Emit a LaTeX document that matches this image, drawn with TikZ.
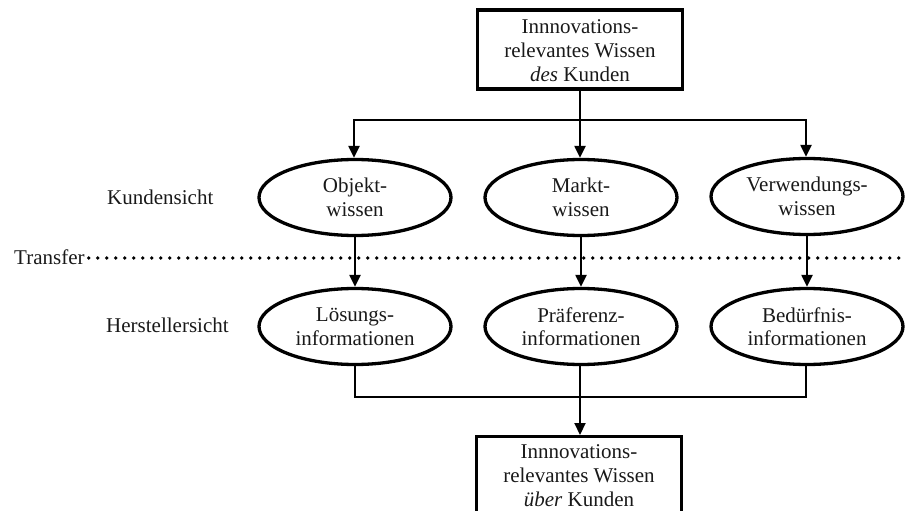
\documentclass[tikz,border=0pt]{standalone}
\usepackage{fontspec}
\setmainfont{Liberation Serif}
\usetikzlibrary{shapes.geometric,arrows.meta}
% lower a block of lines without changing its reported size
\newcommand{\droptext}[2]{\raisebox{-#1}[\height][\depth]{\begin{tabular}{@{}c@{}}#2\end{tabular}}}
\begin{document}
\begin{tikzpicture}[x=1pt,y=-1pt,
  every node/.style={font=\fontsize{21}{23.5}\selectfont, text=black!90},
  knowbox/.style={draw, line width=3.3pt, minimum width=205pt, minimum height=79pt,
    inner sep=0pt, align=center},
  knowell/.style={draw, ellipse, line width=3.3pt, minimum width=192pt,
    minimum height=76pt, inner sep=0pt, align=center},
  conn/.style={line width=2.2pt},
  arr/.style={conn, -{Triangle[length=12pt,width=11pt]}},
  sidelabel/.style={anchor=west, inner sep=0pt}
]
\useasboundingbox (0,0) rectangle (906,511);

% knowledge source and target
\node[knowbox] (src) at (580,49.5)
  {\droptext{3pt}{Innnovations-\\[0.5pt]relevantes Wissen\\[0.5pt]\textit{des} Kunden}};
\begin{scope}
\clip (0,0) rectangle (906,511);
\node[knowbox, anchor=north, minimum height=80pt] (dst) at (579,435)
  {\droptext{1pt}{Innnovations-\\[0.5pt]relevantes Wissen\\[0.5pt]\textit{über} Kunden}};
\end{scope}

% customer view
\node[knowell] (obj) at (355,197.5) {Objekt-\\wissen};
\node[knowell] (mkt) at (581,197.5) {Markt-\\wissen};
\node[knowell] (use) at (807,196.5) {Verwendungs-\\wissen};

% manufacturer view
\node[knowell] (sol) at (355,326.5) {Lösungs-\\informationen};
\node[knowell] (pref) at (581,326.5) {Präferenz-\\informationen};
\node[knowell] (need) at (807,326.5) {Bedürfnis-\\informationen};

% row labels
\node[sidelabel] (kund) at (107,197) {Kundensicht};
\node[sidelabel] (herst) at (106,325) {Herstellersicht};
\node[sidelabel] (trans) at (14,257) {Transfer};
\coordinate (transend) at (906,258);
\draw[line width=3.6pt, line cap=round, dash pattern=on 0pt off 9pt]
  ([xshift=4pt]trans.east |- transend) -- (transend);

% distribution from the source
\coordinate (splitL) at (354,120);
\coordinate (splitM) at (580,120);
\coordinate (splitR) at (806,120);
\draw[conn] (src.south) -- (splitM);
\draw[conn, line cap=rect] (splitL) -- (splitR);
\draw[arr] (splitL) -- (splitL |- obj.north);
\draw[arr] (splitM) -- (splitM |- mkt.north);
\draw[arr] (splitR) -- (splitR |- use.north);

% transfer across the views
\draw[arr] (obj.south) -- (sol.north);
\draw[arr] (mkt.south) -- (pref.north);
\draw[arr] (use.south) -- (need.north);

% gathering into the target
\coordinate (joinL) at (355,397);
\coordinate (joinM) at (580,397);
\coordinate (joinR) at (806,397);
\draw[conn] (joinL |- sol.south) -- (joinL);
\draw[conn] (joinM |- pref.south) -- (joinM);
\draw[conn] (joinR |- need.south) -- (joinR);
\draw[conn, line cap=rect] (joinL) -- (joinR);
\draw[arr] (joinM) -- (joinM |- dst.north);
\end{tikzpicture}
\end{document}
